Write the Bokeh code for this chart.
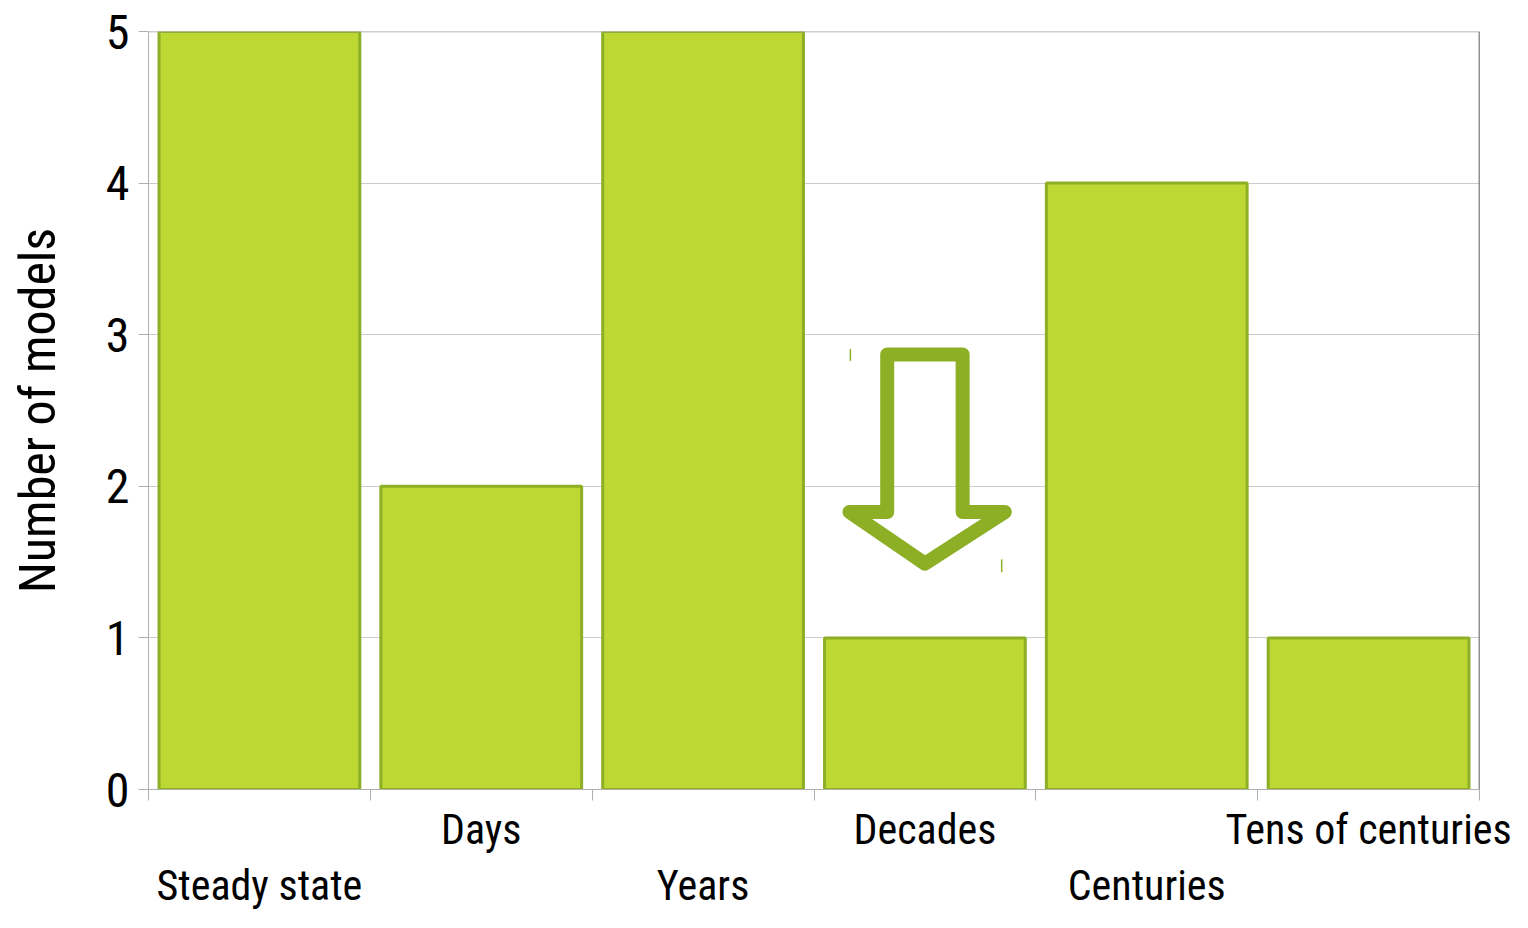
from bokeh.plotting import figure
from bokeh.models import FixedTicker, Span, Range1d
from bokeh.embed import file_html
from bokeh.resources import INLINE

categories = ["Steady state", "Days", "Years", "Decades", "Centuries", "Tens of centuries"]
counts = [5, 2, 5, 1, 4, 1]
y_ticks = [0, 1, 2, 3, 4, 5]

# annotation arrow outline (data coordinates) above "Decades"
arrow_x = [3.33, 3.67, 3.67, 3.86, 3.50, 3.16, 3.33]
arrow_y = [2.87, 2.87, 1.83, 1.83, 1.49, 1.83, 1.83]
# small selection-handle marks next to the arrow
handle_x0 = [3.164, 3.846]
handle_y0 = [2.906, 1.518]
handle_x1 = [3.164, 3.846]
handle_y1 = [2.827, 1.433]

FONT = "Roboto Condensed"
BAR_FILL = "#BDD733"
BAR_LINE = "#8DAF25"
GRID = "#CCCCCC"
AXIS = "#B0B0B0"

n = len(categories)
centers = [i + 0.5 for i in range(n)]

p = figure(width=1512, height=912, output_backend="svg", toolbar_location=None,
           x_range=Range1d(0, n), y_range=Range1d(0, 5),
           min_border_left=148, min_border_top=31, min_border_right=33,
           min_border_bottom=113)
p.outline_line_color = None
p.background_fill_color = "white"

p.xgrid.grid_line_color = None
p.ygrid.ticker = FixedTicker(ticks=y_ticks)
p.ygrid.grid_line_color = GRID
p.ygrid.grid_line_width = 1
p.add_layout(Span(location=5, dimension="width", line_color="#A0A0A0", line_width=1.5))

p.vbar(x=centers, top=counts, width=0.905, bottom=0,
       fill_color=BAR_FILL, line_color=BAR_LINE, line_width=3)

p.patch(arrow_x, arrow_y, fill_color=None, line_color=BAR_LINE, line_width=14, line_join="round")
p.segment(x0=handle_x0, y0=handle_y0, x1=handle_x1, y1=handle_y1, line_color=BAR_LINE, line_width=1.5)

# right border
p.add_layout(Span(location=n, dimension="height", line_color="#222222", line_width=1.5))

# x axis: labels at centres in two staggered rows; ticks at category boundaries
labels = {}
for i, c in enumerate(categories):
    labels[centers[i]] = c if i % 2 == 1 else "\n" + c
xa = p.xaxis[0]
xa.ticker = FixedTicker(ticks=centers, minor_ticks=list(range(n + 1)))
xa.major_label_overrides = labels
xa.major_tick_line_color = None
xa.major_tick_out = 0
xa.major_tick_in = 0
xa.minor_tick_out = 11
xa.minor_tick_in = 0
xa.minor_tick_line_color = AXIS
xa.axis_line_color = AXIS
xa.major_label_text_font = FONT
xa.major_label_text_font_size = "42px"
xa.major_label_text_color = "black"
xa.major_label_standoff = 4
xa.major_label_text_line_height = 1.15

ya = p.yaxis[0]
ya.ticker = FixedTicker(ticks=y_ticks)
ya.minor_tick_line_color = None
ya.major_tick_out = 10
ya.major_tick_in = 0
ya.major_tick_line_color = AXIS
ya.axis_line_color = AXIS
ya.major_label_text_font = FONT
ya.major_label_text_font_size = "48px"
ya.major_label_text_color = "black"
ya.major_label_standoff = 9
ya.axis_label = "Number of models"
ya.axis_label_text_font = FONT
ya.axis_label_text_font_size = "50px"
ya.axis_label_text_font_style = "normal"
ya.axis_label_text_color = "black"
ya.axis_label_standoff = 36

open("out.html", "w").write(file_html(p, INLINE))
